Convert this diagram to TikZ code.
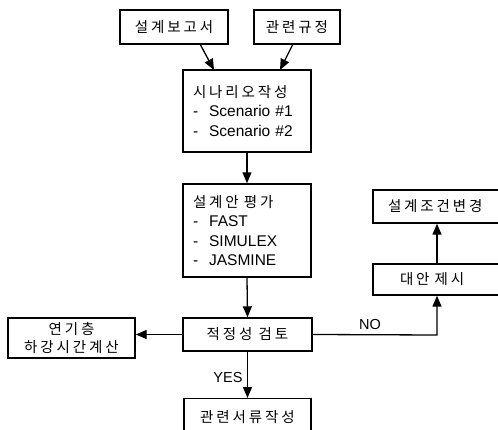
\documentclass[tikz,border=0pt]{standalone}
\usepackage{fontspec}
\setmainfont{Liberation Sans}
\newfontfamily\kr{Noto Sans CJK KR}[LetterSpace=20]
\usetikzlibrary{arrows.meta}
\newcommand{\krs}{\kr\fontsize{14.5}{19.5}\selectfont}
\newcommand{\dsh}{-\hspace{11pt}}
\begin{document}
\begin{tikzpicture}[x=1pt,y=-1pt,
  box/.style={draw, line width=1.4pt, inner sep=0pt, align=center},
  lbox/.style={box, align=left, inner xsep=10pt, text width=108pt},
  arr/.style={-{Triangle[length=11pt,width=9pt]}, line width=1.3pt},
  lab/.style={font=\fontsize{14.5}{16}\selectfont},
  font=\fontsize{15.5}{19.5}\selectfont]
\useasboundingbox (0,0) rectangle (498,430);
\clip (0,0) rectangle (498,430);
\node[box, minimum width=108pt, minimum height=34pt] (a) at (174,27) {\krs 설계보고서};
\node[box, minimum width=86pt, minimum height=34pt] (b) at (297,27) {\krs 관련규정};
\node[lbox, minimum height=82pt] (c) at (247,111) {{\krs 시나리오작성}\\\dsh Scenario \#1\\\dsh Scenario \#2};
\node[lbox, minimum height=93pt] (d) at (247,230.5) {{\krs 설계안 평가}\\\dsh FAST\\\dsh SIMULEX\\\dsh JASMINE};
\node[box, minimum width=129pt, minimum height=33pt] (e) at (247.5,334.5) {\krs 적정성 검토};
\node[box, minimum width=127pt, minimum height=40pt, font=\fontsize{14.5}{18}\selectfont] (f) at (71.5,338) {\krs 연기층\\\krs 하강시간계산};
\node[box, minimum width=127pt, minimum height=42pt, anchor=north] (g) at (247.5,398) {\raisebox{6pt}{\krs 관련서류작성}};
\node[box, align=left, inner xsep=27pt, text width=78pt, minimum height=31pt] (h) at (439,279.5) {\krs 대안 제시};
\node[box, align=left, inner xsep=15pt, text width=102pt, minimum height=33pt] (i) at (439,206.5) {\krs 설계조건변경};
\coordinate (a1) at (200,44);
\coordinate (c1) at (214,70);
\coordinate (b1) at (293,44);
\coordinate (c2) at (280,70);
\draw[arr] (a1) -- (c1);
\draw[arr] (b1) -- (c2);
\draw[arr] (c.south) -- (d.north);
\draw[arr] (d.south) -- (e.north);
\draw[arr] (e.west) -- (f.east |- e.west);
\draw[arr] (e.south) -- (g.north);
\draw[arr] (h.north -| 437,0) -- (i.south -| 437,0);
\coordinate (nc) at (437,335);
\draw[arr] (e.east) -- (nc) -- (h.south -| nc);
\node[lab, anchor=south] (no) at (370,333) {NO};
\node[lab, anchor=east] (yes) at (246,378) {YES};
\end{tikzpicture}
\end{document}
